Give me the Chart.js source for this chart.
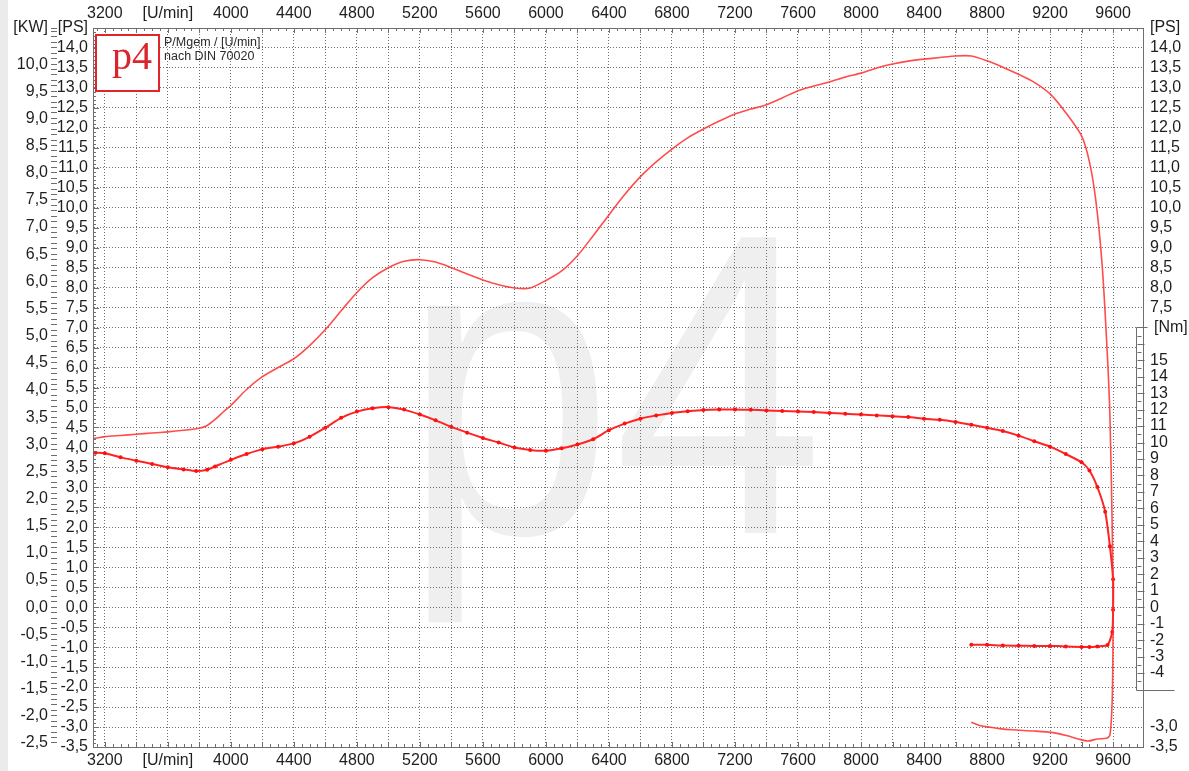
<!DOCTYPE html>
<html>
<head>
<meta charset="utf-8">
<title>p4 Leistungsdiagramm</title>
<script src="https://cdn.jsdelivr.net/npm/chart.js@4.4.0/dist/chart.umd.min.js"></script>
<style>
  html, body { margin: 0; padding: 0; background: #fff; }
  #wrap { width: 1189px; height: 771px; }
</style>
</head>
<body>
<div id="wrap"><canvas id="dyno" width="1189" height="771"></canvas></div>
<script>
// Leistung P [PS] ueber Drehzahl (Hochlauf + Auslauf)
const powerRpm = [3130, 3200, 3300, 3400, 3500, 3600, 3700, 3800, 3850, 3900, 3950, 4000, 4100, 4200, 4300, 4400,
  4500, 4600, 4700, 4800, 4900, 5000, 5100, 5200, 5300, 5400, 5500, 5600, 5700, 5800, 5900, 6000, 6100, 6200,
  6300, 6400, 6500, 6600, 6700, 6800, 6900, 7000, 7100, 7200, 7300, 7400, 7500, 7600, 7700, 7800, 7900, 8000,
  8100, 8200, 8300, 8400, 8500, 8600, 8700, 8800, 8900, 9000, 9100, 9200, 9300, 9400, 9450, 9490, 9530, 9560,
  9580, 9595, 9600, 9598, 9592, 9580, 9560, 9500, 9440, 9380, 9310, 9220, 9100, 8960, 8880, 8760, 8700];
const powerPs = [4.22, 4.27, 4.30, 4.33, 4.36, 4.39, 4.43, 4.48, 4.55, 4.70, 4.88, 5.05, 5.45, 5.77, 6.00, 6.22,
  6.55, 6.95, 7.42, 7.88, 8.25, 8.50, 8.66, 8.70, 8.64, 8.50, 8.34, 8.19, 8.07, 7.99, 7.99, 8.18, 8.42, 8.80,
  9.30, 9.82, 10.33, 10.78, 11.15, 11.47, 11.75, 11.97, 12.17, 12.35, 12.47, 12.58, 12.75, 12.93, 13.05, 13.15, 13.27, 13.37,
  13.50, 13.60, 13.67, 13.72, 13.76, 13.80, 13.80, 13.68, 13.52, 13.34, 13.14, 12.85, 12.38, 11.80, 11.15, 10.20, 8.60, 6.60,
  4.80, 1.90, -0.10, -1.60, -2.60, -3.20, -3.28, -3.30, -3.35, -3.30, -3.22, -3.14, -3.10, -3.07, -3.04, -2.97, -2.88];

// Drehmoment M [Nm] ueber Drehzahl
const torqueRpm = [3140, 3200, 3300, 3400, 3500, 3600, 3700, 3780, 3850, 3900, 4000, 4100, 4200, 4300, 4400, 4500,
  4600, 4700, 4800, 4900, 5000, 5100, 5200, 5300, 5400, 5500, 5600, 5700, 5800, 5900, 6000, 6100, 6200, 6300,
  6400, 6500, 6600, 6700, 6800, 6900, 7000, 7100, 7200, 7300, 7400, 7500, 7600, 7700, 7800, 7900, 8000, 8100,
  8200, 8300, 8400, 8500, 8600, 8700, 8800, 8900, 9000, 9100, 9200, 9300, 9400, 9450, 9500, 9550, 9580, 9600,
  9600, 9595, 9565, 9500, 9450, 9400, 9300, 9200, 9100, 9000, 8900, 8800, 8700];
const torqueNm = [9.38, 9.35, 9.10, 8.90, 8.70, 8.50, 8.37, 8.27, 8.35, 8.55, 8.95, 9.30, 9.60, 9.75, 9.95, 10.35,
  10.90, 11.50, 11.88, 12.08, 12.15, 12.00, 11.70, 11.35, 10.95, 10.60, 10.28, 10.00, 9.70, 9.55, 9.50, 9.65, 9.88, 10.20,
  10.75, 11.15, 11.45, 11.65, 11.80, 11.90, 11.98, 12.00, 12.00, 11.99, 11.95, 11.92, 11.88, 11.85, 11.80, 11.75, 11.70, 11.65,
  11.60, 11.55, 11.45, 11.38, 11.25, 11.08, 10.90, 10.70, 10.42, 10.08, 9.75, 9.30, 8.80, 8.30, 7.30, 5.80, 3.70, 1.70,
  -0.15, -1.50, -2.30, -2.38, -2.42, -2.42, -2.38, -2.35, -2.35, -2.34, -2.33, -2.28, -2.28];

// Achsbeschriftungen
const rpmTickValues = [3200, 3600, 4000, 4400, 4800, 5200, 5600, 6000, 6400, 6800, 7200, 7600, 8000, 8400, 8800, 9200, 9600];
const rpmTickLabels = ['3200', '[U/min]', '4000', '4400', '4800', '5200', '5600', '6000', '6400', '6800', '7200',
  '7600', '8000', '8400', '8800', '9200', '9600'];
const psTickLabels = ['-3,5', '-3,0', '-2,5', '-2,0', '-1,5', '-1,0', '-0,5', '0,0', '0,5', '1,0', '1,5', '2,0',
  '2,5', '3,0', '3,5', '4,0', '4,5', '5,0', '5,5', '6,0', '6,5', '7,0', '7,5', '8,0', '8,5', '9,0', '9,5', '10,0',
  '10,5', '11,0', '11,5', '12,0', '12,5', '13,0', '13,5', '14,0'];
const psRightLabels = ['14,0', '13,5', '13,0', '12,5', '12,0', '11,5', '11,0', '10,5', '10,0', '9,5', '9,0', '8,5',
  '8,0', '7,5', '-3,0', '-3,5'];
const kwTickLabels = ['-2,5', '-2,0', '-1,5', '-1,0', '-0,5', '0,0', '0,5', '1,0', '1,5', '2,0', '2,5', '3,0', '3,5',
  '4,0', '4,5', '5,0', '5,5', '6,0', '6,5', '7,0', '7,5', '8,0', '8,5', '9,0', '9,5', '10,0'];
const nmTickLabels = ['-4', '-3', '-2', '-1', '0', '1', '2', '3', '4', '5', '6', '7', '8', '9', '10', '11', '12', '13', '14', '15'];
const unitKw = '[KW]';
const unitPs = '[PS]';
const unitNm = '[Nm]';
const noteLines = ['P/Mgem / [U/min]', 'nach DIN 70020'];
const logoText = 'p4';

const PS_TO_KW = 0.7355;
const NM_PER_PS = 2.426;      // Verhaeltnis der Nm-Skala zur PS-Skala
const PS_MIN = -3.5, PS_MAX = 14.5;
const RPM_MIN = 3125, RPM_MAX = 9790;
const NM_BOX = [-5, 17];

const FONT = { family: '"Liberation Sans", Arial, sans-serif', size: 16 };
const TXT = '#1e1e1e';
const GRID = '#6e6e6e';
const FRAME = '#6e6e6e';

const num = s => parseFloat(s.replace(',', '.'));
const key = v => Math.round(v * 10);

const psLabelMap = {};
psTickLabels.forEach(l => { psLabelMap[key(num(l))] = l; });
const kwLabelMap = {};
kwTickLabels.forEach(l => { kwLabelMap[key(num(l))] = l; });

const gridRpm = [];
for (let r = 3200; r <= 9600; r += 200) gridRpm.push(r);

function rpmLabel(v) {
  const i = rpmTickValues.indexOf(v);
  return i < 0 ? '' : rpmTickLabels[i];
}
function psTicks(scale) {
  scale.ticks = psTickLabels.map(l => ({ value: num(l) })).concat([{ value: PS_MAX }]);
}

const dynoDecor = {
  id: 'dynoDecor',
  beforeDraw(chart) {
    const { ctx, height } = chart;
    ctx.save();
    ctx.fillStyle = '#ebebeb';
    ctx.fillRect(0, 0, 8, height);
    // Wasserzeichen
    ctx.fillStyle = '#efefef';
    ctx.font = '430px "Liberation Sans", Arial, sans-serif';
    ctx.textBaseline = 'alphabetic';
    ctx.translate(403, 533);
    ctx.scale(0.88, 1);
    ctx.fillText(logoText, 0, 0);
    ctx.restore();
  },
  afterDraw(chart) {
    const { ctx, chartArea: a, scales } = chart;
    const xs = scales.x, ys = scales.y, nm = scales.yNm;
    ctx.save();
    ctx.strokeStyle = FRAME;
    ctx.lineWidth = 1;

    // kleine Teilstriche am Rahmen
    ctx.beginPath();
    for (let r = 3150; r <= RPM_MAX; r += 50) {
      const px = Math.round(xs.getPixelForValue(r)) + 0.5;
      const len = r % 200 === 0 ? 5 : 3;
      ctx.moveTo(px, a.top); ctx.lineTo(px, a.top + len);
      ctx.moveTo(px, a.bottom); ctx.lineTo(px, a.bottom - len);
    }
    for (let i = -35; i <= 145; i++) {
      const py = Math.round(ys.getPixelForValue(i / 10)) + 0.5;
      const len = i % 5 === 0 ? 6 : 3;
      ctx.moveTo(a.left, py); ctx.lineTo(a.left + len, py);
    }
    ctx.stroke();

    // Nm-Skala im Kasten
    const bx = Math.round(a.right - 7) + 0.5;
    const bTop = Math.round(nm.getPixelForValue(NM_BOX[1])) + 0.5;
    const bBot = Math.round(nm.getPixelForValue(NM_BOX[0])) + 0.5;
    ctx.fillStyle = '#fff';
    ctx.fillRect(bx, bTop, a.right - bx - 1, bBot - bTop);
    ctx.beginPath();
    ctx.moveTo(bx + 11, bTop); ctx.lineTo(bx, bTop); ctx.lineTo(bx, bBot); ctx.lineTo(bx + 38, bBot);
    for (let i = NM_BOX[0] * 2; i <= NM_BOX[1] * 2; i++) {
      const py = Math.round(nm.getPixelForValue(i / 2)) + 0.5;
      const len = i % 2 === 0 ? 7 : 4;
      ctx.moveTo(bx + 1, py); ctx.lineTo(bx + 1 + len, py);
    }
    ctx.stroke();
    ctx.fillStyle = TXT;
    ctx.font = FONT.size + 'px ' + FONT.family;
    ctx.textAlign = 'left';
    ctx.textBaseline = 'middle';
    nmTickLabels.forEach(l => {
      ctx.fillText(l, a.right + 7, nm.getPixelForValue(parseInt(l, 10)));
    });
    ctx.fillText(unitNm, a.right + 11, nm.getPixelForValue(NM_BOX[1]));

    // Logo oben links
    const lx = a.left + 3, ly = a.top + 7;
    ctx.fillStyle = '#fff';
    ctx.fillRect(lx, ly, 63, 56);
    ctx.strokeStyle = '#e0262b';
    ctx.lineWidth = 2;
    ctx.strokeRect(lx, ly, 63, 56);
    ctx.fillStyle = '#d9252b';
    ctx.font = '40px "Liberation Serif", "Times New Roman", serif';
    ctx.textAlign = 'center';
    ctx.textBaseline = 'alphabetic';
    ctx.fillText(logoText, lx + 36, ly + 34);

    ctx.fillStyle = '#2a2a2a';
    ctx.font = '12.5px "Liberation Sans", Arial, sans-serif';
    ctx.textAlign = 'left';
    ctx.textBaseline = 'middle';
    ctx.fillText(noteLines[0], a.left + 71, a.top + 15);
    ctx.fillText(noteLines[1], a.left + 71, a.top + 29);
    ctx.restore();
  }
};

new Chart(document.getElementById('dyno'), {
  type: 'scatter',
  data: {
    datasets: [
      {
        label: 'P [PS]',
        data: powerRpm.map((r, i) => ({ x: r, y: powerPs[i] })),
        xAxisID: 'x',
        yAxisID: 'y',
        showLine: true,
        borderColor: 'rgba(255,45,45,0.85)',
        borderWidth: 1.6,
        pointRadius: 0,
        tension: 0.25
      },
      {
        label: 'M [Nm]',
        data: torqueRpm.map((r, i) => ({ x: r, y: torqueNm[i] })),
        xAxisID: 'x',
        yAxisID: 'yNm',
        showLine: true,
        borderColor: '#ff2323',
        borderWidth: 2,
        pointRadius: 2,
        pointBackgroundColor: '#ff1010',
        pointBorderWidth: 0,
        tension: 0.2
      }
    ]
  },
  options: {
    responsive: false,
    animation: false,
    layout: { padding: { left: 8 } },
    plugins: { legend: { display: false }, tooltip: { enabled: false } },
    scales: {
      x: {
        type: 'linear', position: 'bottom', min: RPM_MIN, max: RPM_MAX,
        afterBuildTicks: s => { s.ticks = gridRpm.map(v => ({ value: v })); },
        afterFit: s => { s.height = 24; },
        ticks: { autoSkip: false, maxRotation: 0, padding: 4, font: FONT, color: TXT, callback: rpmLabel },
        grid: { color: GRID, drawTicks: false },
        border: { color: FRAME, dash: [1, 2] }
      },
      x2: {
        type: 'linear', axis: 'x', position: 'top', min: RPM_MIN, max: RPM_MAX,
        afterBuildTicks: s => { s.ticks = gridRpm.map(v => ({ value: v })); },
        afterFit: s => { s.height = 28; },
        ticks: { autoSkip: false, maxRotation: 0, padding: 5, font: FONT, color: TXT, callback: rpmLabel },
        grid: { drawOnChartArea: false, drawTicks: false },
        border: { color: FRAME }
      },
      y: {
        type: 'linear', position: 'left', min: PS_MIN, max: PS_MAX,
        afterBuildTicks: psTicks,
        afterFit: s => { s.width = 36; },
        ticks: {
          autoSkip: false, padding: 5, font: FONT, color: TXT,
          callback: v => (v === PS_MAX ? unitPs : (psLabelMap[key(v)] || ''))
        },
        grid: { color: GRID, drawTicks: false },
        border: { color: FRAME, dash: [1, 2] }
      },
      yKW: {
        type: 'linear', position: 'left', weight: 1,
        min: PS_MIN * PS_TO_KW, max: PS_MAX * PS_TO_KW,
        afterBuildTicks: s => {
          const t = [];
          for (let i = -25; i <= 106; i++) t.push({ value: i / 10 });
          t.push({ value: PS_MAX * PS_TO_KW });
          s.ticks = t;
        },
        afterFit: s => { s.width = 49; },
        ticks: {
          autoSkip: false, padding: 3, font: FONT, color: TXT,
          callback: v => (v === PS_MAX * PS_TO_KW ? unitKw : (kwLabelMap[key(v)] || ''))
        },
        grid: { drawOnChartArea: false, drawTicks: true, tickLength: 6, tickColor: '#6e6e6e' },
        border: { display: false }
      },
      yR: {
        type: 'linear', position: 'right', min: PS_MIN, max: PS_MAX,
        afterBuildTicks: psTicks,
        afterFit: s => { s.width = 46; },
        ticks: {
          autoSkip: false, padding: 7, font: FONT, color: TXT,
          callback: v => {
            if (v === PS_MAX) return unitPs;
            const l = psLabelMap[key(v)];
            return psRightLabels.includes(l) ? l : '';
          }
        },
        grid: { drawOnChartArea: false, drawTicks: false },
        border: { color: FRAME }
      },
      yNm: {
        type: 'linear', position: 'right', display: false,
        min: PS_MIN * NM_PER_PS, max: PS_MAX * NM_PER_PS
      }
    }
  },
  plugins: [dynoDecor]
});
</script>
</body>
</html>
